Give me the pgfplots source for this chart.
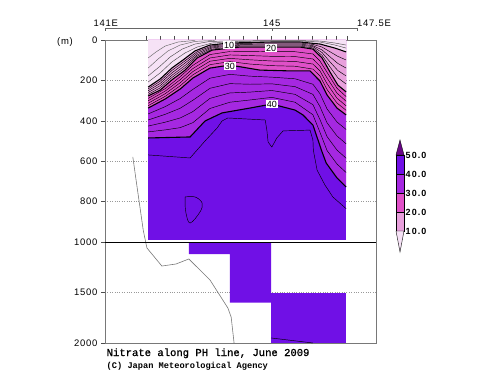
\documentclass[border=0pt]{standalone}
\usepackage{pgfplots}
\pgfplotsset{compat=1.18}
\usepackage{fontspec}
\setmainfont{Liberation Sans}
\newfontfamily\tickf[LetterSpace=8]{Liberation Sans}
\newfontfamily\titlef[FakeBold=1.2]{Liberation Mono}
\newfontfamily\copyf{Liberation Mono}
\newfontfamily\cbf[LetterSpace=12]{Liberation Sans}
\newfontfamily\labf{Liberation Sans}
\definecolor{cA}{RGB}{246,226,246}
\definecolor{cB}{RGB}{232,160,220}
\definecolor{cC}{RGB}{224,80,200}
\definecolor{cD}{RGB}{165,40,225}
\definecolor{cE}{RGB}{112,16,230}
\definecolor{cF}{RGB}{105,5,135}
\definecolor{frame}{RGB}{120,120,120}
\tikzset{
  thinc/.style={black, line width=0.45pt},
  thickc/.style={black, line width=1.1pt},
  band/.style={draw=none},
  lab/.style={fill=white, inner sep=0.8bp, font=\labf\fontsize{9}{10}\selectfont},
}
\begin{document}
\begin{tikzpicture}
\useasboundingbox (0,0) rectangle (500bp,387bp);
% ---------------- upper panel 0-1000 m ----------------
\begin{axis}[
  at={(105bp,145bp)}, anchor=south west, scale only axis,
  width=271bp, height=202bp,
  xmin=141, xmax=147.53, ymin=0, ymax=1000, y dir=reverse,
  clip=false,
  axis line style={draw=frame, line width=0.6pt},
  ytick={0,200,400,600,800,1000}, yticklabels={0,200,400,600,800,1000},
  ytick pos=left, xtick pos=right, tick align=outside, major tick length=4bp,
  xtick={142,142.333,142.667,143,143.333,143.667,144,144.333,144.667,145,145.333,145.667,146,146.333,146.583,146.83},
  xticklabels={},
  tick style={black!70, line width=0.5pt},
  ymajorgrids, grid style={dotted, black!40, line width=0.5pt},
  yticklabel style={font=\tickf\fontsize{9.5}{11}\selectfont},
]
% filled bands
\addplot[band, fill=cE] coordinates {(142.04,0) (146.81,0) (146.81,990) (142.04,990)} -- cycle;
\addplot[band, fill=cD] coordinates {(142.04,485) (143.05,480) (143.41,401) (143.82,361) (144.49,337) (145.02,317) (145.58,347) (145.77,371) (146.01,421) (146.23,554) (146.33,609) (146.59,683) (146.81,728) (146.81,0) (142.04,0)} -- cycle;
\addplot[band, fill=cC] coordinates {(142.04,337) (142.45,292) (142.81,243) (143.12,188) (143.53,139) (144.01,124) (144.73,149) (145.46,153) (145.94,153) (146.18,203) (146.35,272) (146.59,337) (146.81,371) (146.81,0) (142.04,0)} -- cycle;
\addplot[band, fill=cB] coordinates {(142.04,277) (142.33,248) (142.61,198) (142.93,149) (143.22,89) (143.58,50) (144.25,35) (145.00,35) (145.70,35) (146.01,45) (146.23,89) (146.42,158) (146.61,223) (146.81,257) (146.81,0) (142.04,0)} -- cycle;
\addplot[band, fill=cA] coordinates {(142.04,233) (142.33,193) (142.61,139) (142.88,99) (143.17,54) (143.53,25) (143.99,15) (145.02,10) (145.70,10) (146.18,20) (146.54,40) (146.81,59) (146.81,0) (142.04,0)} -- cycle;
% thin contours below 10
\addplot[thinc, black!60] coordinates {(142.04,89) (142.23,59) (142.45,30) (142.76,10) (143.17,2)};
\addplot[thinc, black!60] coordinates {(142.04,139) (142.28,94) (142.52,54) (142.81,25) (143.17,7) (143.64,2)};
\addplot[thinc, black!70] coordinates {(142.04,178) (142.33,129) (142.57,84) (142.86,45) (143.17,20) (143.53,7) (144.25,4) (145.02,3) (145.70,3) (146.18,5) (146.54,15) (146.81,25)};
\addplot[thinc, black!70] coordinates {(142.04,208) (142.33,163) (142.61,109) (142.93,64) (143.22,35) (143.58,15) (144.25,7) (145.02,5) (145.70,5) (146.18,10) (146.54,25) (146.81,40)};
% thin contours 10-20
\addplot[thinc] coordinates {(142.04,242) (142.33,204) (142.61,151) (142.93,103) (143.22,58) (143.58,29) (144.25,17) (145.00,15) (145.70,15) (146.01,22) (146.23,35) (146.42,58) (146.61,81) (146.81,99)};
\addplot[thinc] coordinates {(142.04,251) (142.33,215) (142.61,163) (142.93,114) (143.22,66) (143.58,34) (144.25,22) (145.00,20) (145.70,20) (146.01,28) (146.23,49) (146.42,83) (146.61,116) (146.81,139)};
\addplot[thinc] coordinates {(142.04,260) (142.33,226) (142.61,175) (142.93,126) (143.22,74) (143.58,39) (144.25,26) (145.00,25) (145.70,25) (146.01,33) (146.23,62) (146.42,108) (146.61,151) (146.81,178)};
\addplot[thinc] coordinates {(142.04,269) (142.33,237) (142.61,186) (142.93,137) (143.22,81) (143.58,45) (144.25,30) (145.00,30) (145.70,30) (146.01,39) (146.23,76) (146.42,133) (146.61,187) (146.81,218)};
% thin contours 20-30
\addplot[thinc] coordinates {(142.04,289) (142.45,241) (142.81,182) (143.12,125) (143.53,72) (144.01,57) (144.49,56) (145.02,58) (145.58,58) (146.01,69) (146.18,104) (146.35,160) (146.59,239) (146.81,280)};
\addplot[thinc] coordinates {(142.04,301) (142.45,253) (142.81,197) (143.12,141) (143.53,89) (144.01,74) (144.49,77) (145.02,81) (145.58,82) (146.01,94) (146.18,129) (146.35,188) (146.59,263) (146.81,303)};
\addplot[thinc] coordinates {(142.04,313) (142.45,266) (142.81,212) (143.12,156) (143.53,105) (144.01,91) (144.49,98) (145.02,104) (145.58,106) (146.01,119) (146.18,153) (146.35,216) (146.59,288) (146.81,326)};
\addplot[thinc] coordinates {(142.04,325) (142.45,279) (142.81,227) (143.12,172) (143.53,122) (144.01,107) (144.49,119) (145.02,127) (145.58,130) (146.01,144) (146.18,178) (146.35,245) (146.59,312) (146.81,348)};
% thin contours 30-40
\addplot[thinc] coordinates {(142.04,366) (142.45,330) (142.81,290) (143.12,244) (143.53,189) (144.01,170) (144.49,179) (145.02,184) (145.58,192) (146.01,219) (146.18,266) (146.35,341) (146.59,406) (146.81,443)};
\addplot[thinc] coordinates {(142.04,396) (142.45,368) (142.81,338) (143.12,298) (143.53,239) (144.01,216) (144.49,219) (145.02,217) (145.58,231) (146.01,269) (146.18,330) (146.35,410) (146.59,475) (146.81,514)};
\addplot[thinc] coordinates {(142.04,426) (142.45,407) (142.81,386) (143.12,354) (143.53,289) (144.01,262) (144.49,258) (145.02,250) (145.58,269) (146.01,320) (146.18,394) (146.35,478) (146.59,545) (146.81,585)};
\addplot[thinc] coordinates {(142.04,455) (142.45,445) (142.81,434) (143.12,409) (143.53,339) (144.01,308) (144.49,297) (145.02,284) (145.58,308) (146.01,370) (146.18,457) (146.35,547) (146.59,614) (146.81,656)};
% thin contours 40-50
\addplot[thinc] coordinates {(142.04,569) (143.05,584) (143.41,500) (143.70,436) (143.82,401) (143.96,386) (144.86,396) (144.90,446) (144.93,505) (145.02,530) (145.14,485) (145.29,450) (145.94,446) (146.01,495) (146.02,545) (146.11,644) (146.30,718) (146.49,777) (146.81,835)};
\addplot[thinc, smooth, tension=0.6] coordinates {(142.93,777) (143.17,777) (143.34,807) (143.29,851) (143.05,906) (142.95,856) (142.93,807) (142.93,777)};
% thick contours 10,20,30,40
\addplot[thickc] coordinates {(142.04,233) (142.33,193) (142.61,139) (142.88,99) (143.17,54) (143.53,25) (143.99,15) (145.02,10) (145.70,10) (146.18,20) (146.54,40) (146.81,59)};
\addplot[thickc] coordinates {(142.04,277) (142.33,248) (142.61,198) (142.93,149) (143.22,89) (143.58,50) (144.25,35) (145.00,35) (145.70,35) (146.01,45) (146.23,89) (146.42,158) (146.61,223) (146.81,257)};
\addplot[thickc] coordinates {(142.04,337) (142.45,292) (142.81,243) (143.12,188) (143.53,139) (144.01,124) (144.73,149) (145.46,153) (145.94,153) (146.18,203) (146.35,272) (146.59,337) (146.81,371)};
\addplot[thickc] coordinates {(142.04,485) (143.05,480) (143.41,401) (143.82,361) (144.49,337) (145.02,317) (145.58,347) (145.77,371) (146.01,421) (146.23,554) (146.33,609) (146.59,683) (146.81,728)};
% bottom topography (upper part)
\addplot[frame, line width=0.6pt] coordinates {(141.67,579) (141.92,940) (141.98,1000)};
% contour labels
\node[lab] at (axis cs:143.99,25) {10};
\node[lab] at (axis cs:145.00,40) {20};
\node[lab] at (axis cs:144.01,129) {30};
\node[lab] at (axis cs:145.02,317) {40};
% 1000 m separator
\draw[black, line width=0.9pt] (axis cs:141,1000) -- (axis cs:147.53,1000);
% longitude scale above
\draw[black!60, line width=0.5pt] (axis cs:141,-58) -- (axis cs:147.07,-58);
\draw[black!60, line width=0.5pt] (axis cs:141,-58) -- (axis cs:141,-43);
\draw[black!60, line width=0.5pt] (axis cs:145.02,-58) -- (axis cs:145.02,-43);
\draw[black!60, line width=0.5pt] (axis cs:147.07,-58) -- (axis cs:147.07,-43);
\node[anchor=base, inner sep=0pt, font=\tickf\fontsize{9.5}{11}\selectfont] at (axis cs:141.02,-68) {141E};
\node[anchor=base, inner sep=0pt, font=\tickf\fontsize{9.5}{11}\selectfont] at (axis cs:145.02,-68) {145};
\node[anchor=base west, inner sep=0pt, font=\tickf\fontsize{9.5}{11}\selectfont] at (axis cs:147.07,-68) {147.5E};
\end{axis}
% ---------------- lower panel 1000-2000 m ----------------
\begin{axis}[
  at={(105bp,44bp)}, anchor=south west, scale only axis,
  width=271bp, height=101bp,
  xmin=141, xmax=147.53, ymin=1000, ymax=2000, y dir=reverse,
  axis line style={draw=frame, line width=0.6pt},
  ytick={1000,1500,2000}, yticklabels={,1500,2000},
  ytick pos=left, xtick=\empty, tick align=outside, major tick length=4bp,
  tick style={black!70, line width=0.5pt},
  ymajorgrids, grid style={dotted, black!40, line width=0.5pt},
  yticklabel style={font=\tickf\fontsize{9.5}{11}\selectfont},
]
\addplot[band, fill=cE] coordinates {(143.02,1000) (145.00,1000) (145.00,1600) (144.01,1600) (144.01,1120) (143.02,1120)} -- cycle;
\addplot[band, fill=cE] coordinates {(145.00,1500) (146.81,1500) (146.81,2000) (145.00,2000)} -- cycle;
\addplot[thinc] coordinates {(145.00,1950) (146.01,2000)};
\addplot[frame, line width=0.6pt] coordinates {(141.98,1000) (142.01,1059) (142.37,1238) (142.71,1218) (143.02,1168) (143.53,1376) (143.96,1653) (144.04,1743) (144.11,2000)};
\draw[black, line width=0.9pt] (axis cs:141,1000) -- (axis cs:147.53,1000);
\end{axis}
% ---------------- colour bar ----------------
\begin{axis}[
  at={(396bp,135bp)}, anchor=south west, scale only axis,
  width=8bp, height=112bp,
  xmin=0, xmax=1, ymin=-1.05, ymax=57.9, clip=false,
  axis line style={draw=none}, xtick=\empty,
  ytick={10,20,30,40,50}, yticklabels={10.0,20.0,30.0,40.0,50.0},
  ytick pos=right, yticklabel pos=right, tick style={draw=none}, major tick length=0pt,
  yticklabel style={font=\cbf\bfseries\fontsize{9}{10}\selectfont, inner sep=1.5bp},
]
\addplot[fill=cF, draw=black, line width=0.4pt] coordinates {(0,50) (1,50) (0.5,57.9)} -- cycle;
\addplot[fill=cE, draw=black, line width=0.4pt] coordinates {(0,40) (1,40) (1,50) (0,50)} -- cycle;
\addplot[fill=cD, draw=black, line width=0.4pt] coordinates {(0,30) (1,30) (1,40) (0,40)} -- cycle;
\addplot[fill=cC, draw=black, line width=0.4pt] coordinates {(0,20) (1,20) (1,30) (0,30)} -- cycle;
\addplot[fill=cB, draw=black, line width=0.4pt] coordinates {(0,10) (1,10) (1,20) (0,20)} -- cycle;
\addplot[fill=cA, draw=black, line width=0.4pt] coordinates {(0,10) (1,10) (0.5,-1.05)} -- cycle;
\end{axis}
% ---------------- texts ----------------
\node[anchor=center, inner sep=0pt, font=\tickf\fontsize{9.5}{11}\selectfont] at (65bp,345bp) {(m)};
\node[anchor=base west, inner sep=0pt, font=\titlef\fontsize{10.6}{12}\selectfont] at (106.5bp,31bp) {Nitrate along PH line, June 2009};
\node[anchor=base west, inner sep=0pt, font=\copyf\bfseries\fontsize{8.7}{10}\selectfont] at (106.5bp,18.5bp) {(C) Japan Meteorological Agency};
\end{tikzpicture}
\end{document}
